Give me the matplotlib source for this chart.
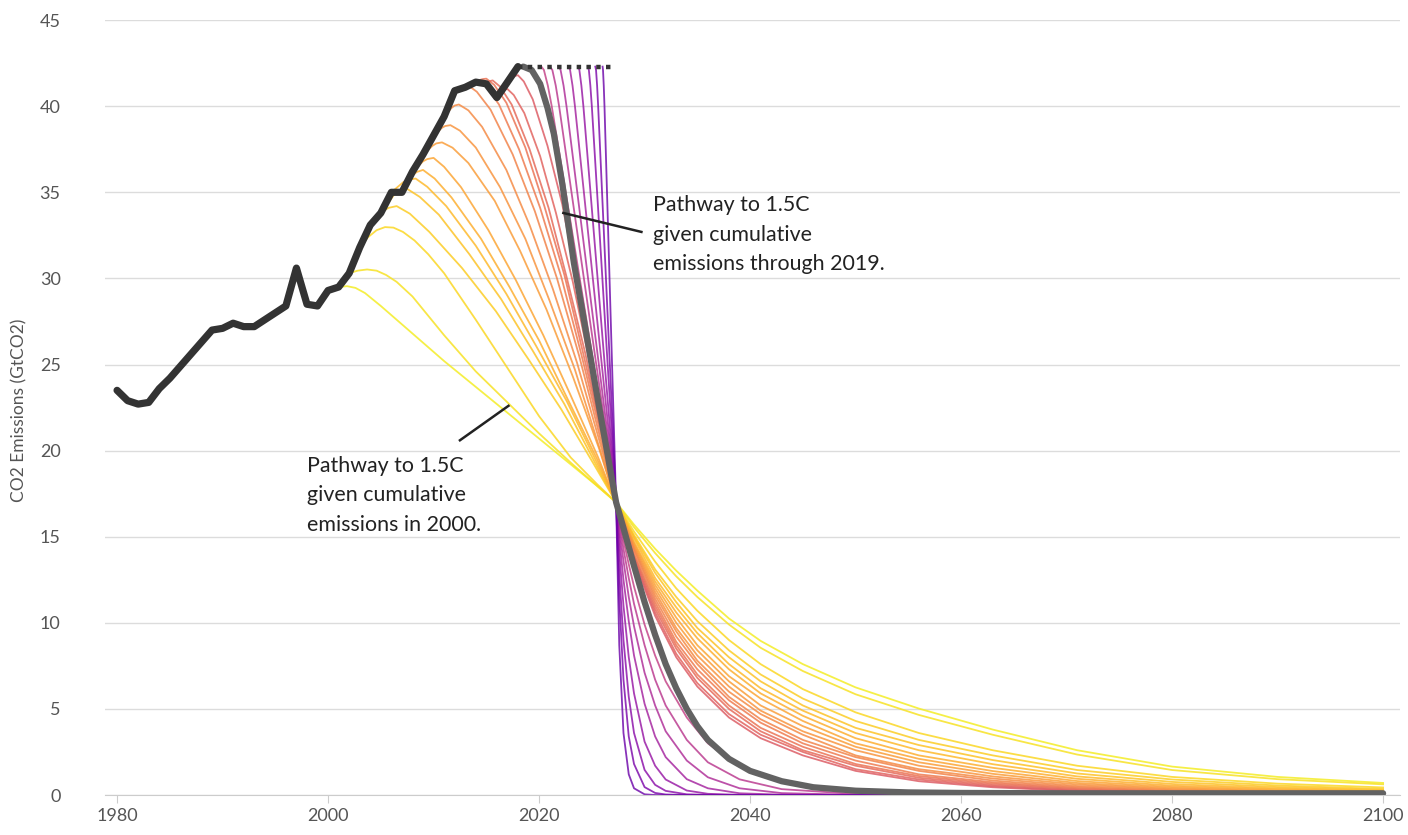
import numpy as np
import matplotlib.pyplot as plt

plt.rcParams['font.family'] = ['Lato', 'DejaVu Sans']

# historical emissions (GtCO2)
HIST_YEARS = list(range(1980, 2019))
HIST_CO2 = [23.5, 22.9, 22.7, 22.8, 23.6, 24.2, 24.9, 25.6, 26.3, 27.0,
            27.1, 27.4, 27.2, 27.2, 27.6, 28.0, 28.4, 30.6, 28.5, 28.4,
            29.3, 29.5, 30.3, 31.8, 33.1, 33.8, 35.0, 35.0, 36.2, 37.2,
            38.3, 39.4, 40.9, 41.1, 41.4, 41.3, 40.5, 41.4, 42.3]

# constant emissions after 2018 (dotted)
PLATEAU_YEARS = [2018, 2027]
PLATEAU_CO2 = [42.3, 42.3]

# pathways starting 2001..2017, part before the common crossing point
EARLY_YEARS = [
    [2001, 2001.8, 2002.6, 2003.5, 2005, 2008, 2011, 2014, 2017, 2020, 2023, 2025.5, 2027.3],
    [2002, 2002.8, 2003.7, 2004.6, 2005.5, 2006.5, 2008, 2011, 2014, 2017, 2020, 2023, 2025.5, 2027.3],
    [2003, 2003.8, 2004.6, 2005.4, 2006.2, 2007.1, 2008.2, 2009.5, 2011, 2014, 2017, 2020, 2023, 2025.5, 2027.3],
    [2004, 2005.25, 2005.75, 2006.5, 2007.75, 2009.6, 2012.7, 2015.9, 2019.0, 2022.1, 2025.2, 2027.3],
    [2005, 2006.25, 2006.75, 2007.5, 2008.7, 2010.5, 2013.4, 2016.4, 2019.4, 2022.4, 2025.3, 2027.3],
    [2006, 2007.15, 2007.6, 2008.3, 2009.4, 2011.2, 2014.0, 2016.9, 2019.7, 2022.6, 2025.4, 2027.3],
    [2007, 2008.0, 2008.4, 2009.0, 2010.1, 2011.7, 2014.5, 2017.2, 2020.0, 2022.7, 2025.5, 2027.3],
    [2008, 2009.0, 2009.4, 2010.0, 2011.0, 2012.6, 2015.2, 2017.8, 2020.4, 2023.0, 2025.6, 2027.3],
    [2009, 2009.9, 2010.25, 2010.8, 2011.8, 2013.3, 2015.8, 2018.2, 2020.7, 2023.2, 2025.7, 2027.3],
    [2010, 2010.8, 2011.1, 2011.6, 2012.5, 2014.0, 2016.3, 2018.7, 2021.0, 2023.4, 2025.7, 2027.3],
    [2011, 2011.7, 2012.0, 2012.4, 2013.3, 2014.6, 2016.9, 2019.1, 2021.3, 2023.6, 2025.8, 2027.3],
    [2012, 2012.65, 2012.9, 2013.3, 2014.1, 2015.4, 2017.5, 2019.6, 2021.7, 2023.8, 2025.9, 2027.3],
    [2013, 2013.6, 2013.85, 2014.2, 2015.0, 2016.2, 2018.1, 2020.1, 2022.1, 2024.0, 2026.0, 2027.3],
    [2014, 2014.5, 2014.7, 2015.0, 2015.75, 2016.9, 2018.7, 2020.5, 2022.4, 2024.2, 2026.1, 2027.3],
    [2015, 2015.6, 2016.3, 2017.4, 2019.1, 2020.9, 2022.6, 2024.4, 2026.1, 2027.3],
    [2016, 2016.5, 2016.7, 2017.0, 2017.6, 2018.6, 2020.1, 2021.6, 2023.2, 2024.7, 2026.3, 2027.3],
    [2017, 2017.5, 2017.7, 2018.0, 2018.55, 2019.4, 2020.8, 2022.2, 2023.6, 2025.0, 2026.4, 2027.3],
]
EARLY_CO2 = [
    [29.5, 29.55, 29.45, 29.15, 28.4, 26.8, 25.2, 23.7, 22.2, 20.7, 19.2, 17.95, 17.0],
    [30.3, 30.45, 30.52, 30.45, 30.2, 29.8, 28.95, 26.7, 24.6, 22.8, 21.0, 19.3, 17.95, 17.0],
    [31.8, 32.4, 32.8, 32.98, 32.95, 32.7, 32.2, 31.4, 30.3, 27.6, 24.8, 22.0, 19.6, 18.05, 17.0],
    [33.1, 33.93, 34.1, 34.2, 33.76, 32.7, 30.6, 28.1, 25.3, 22.4, 19.2, 17.0],
    [33.8, 34.85, 35.07, 35.2, 34.73, 33.7, 31.4, 28.8, 25.8, 22.7, 19.3, 17.0],
    [35.0, 35.6, 35.73, 35.8, 35.32, 34.2, 31.9, 29.1, 26.1, 22.9, 19.4, 17.0],
    [35.0, 35.98, 36.18, 36.3, 35.8, 34.7, 32.3, 29.5, 26.4, 23.0, 19.5, 17.0],
    [36.2, 36.8, 36.93, 37.0, 36.48, 35.3, 32.8, 29.9, 26.7, 23.2, 19.6, 17.0],
    [37.2, 37.7, 37.84, 37.9, 37.59, 36.7, 34.5, 31.6, 28.2, 24.3, 20.1, 17.0],
    [38.3, 38.75, 38.85, 38.9, 38.58, 37.6, 35.3, 32.3, 28.7, 24.7, 20.2, 17.0],
    [39.4, 39.9, 40.04, 40.1, 39.76, 38.8, 36.3, 33.1, 29.4, 25.1, 20.4, 17.0],
    [40.9, 41.1, 41.17, 41.2, 40.84, 39.8, 37.2, 33.9, 30.0, 25.5, 20.5, 17.0],
    [41.1, 41.4, 41.46, 41.5, 41.14, 40.1, 37.5, 34.1, 30.1, 25.6, 20.6, 17.0],
    [41.4, 41.55, 41.58, 41.6, 41.24, 40.2, 37.6, 34.2, 30.2, 25.6, 20.6, 17.0],
    [41.4, 41.5, 41.14, 40.1, 37.5, 34.1, 30.1, 25.6, 20.6, 17.0],
    [40.5, 40.88, 40.96, 41.0, 40.65, 39.6, 37.1, 33.8, 29.8, 25.4, 20.5, 17.0],
    [41.3, 41.68, 41.76, 41.8, 41.44, 40.4, 37.7, 34.3, 29.8, 25.2, 20.3, 17.0],
]

# decline after the crossing point, same years for every early pathway
TAIL_YEARS = [2027.3, 2029, 2031, 2033, 2035, 2038, 2041, 2045, 2050, 2056,
              2063, 2071, 2080, 2090, 2100]
EARLY_TAIL = [
    [17, 15.7, 14.3, 13.03, 11.87, 10.25, 8.95, 7.6, 6.25, 5.02, 3.8, 2.6, 1.65, 1.05, 0.7],
    [17, 15.55, 14.05, 12.7, 11.5, 9.9, 8.55, 7.2, 5.85, 4.65, 3.5, 2.35, 1.45, 0.92, 0.62],
    [17, 15.3, 13.55, 12.0, 10.7, 9.0, 7.6, 6.15, 4.8, 3.6, 2.6, 1.7, 1.05, 0.66, 0.44],
    [17, 15.1, 13.1, 11.5, 10.1, 8.4, 7.0, 5.6, 4.3, 3.2, 2.3, 1.45, 0.9, 0.55, 0.35],
    [17, 15.0, 12.9, 11.2, 9.7, 8.0, 6.6, 5.2, 3.9, 2.9, 2.03, 1.25, 0.76, 0.46, 0.29],
    [17, 14.9, 12.6, 10.9, 9.4, 7.6, 6.2, 4.9, 3.6, 2.6, 1.79, 1.08, 0.64, 0.38, 0.24],
    [17, 14.7, 12.4, 10.6, 9.1, 7.3, 5.9, 4.6, 3.3, 2.3, 1.58, 0.94, 0.54, 0.32, 0.20],
    [17, 14.6, 12.2, 10.3, 8.7, 6.9, 5.6, 4.3, 3.0, 2.1, 1.39, 0.81, 0.46, 0.26, 0.16],
    [17, 14.5, 12.0, 10.0, 8.4, 6.6, 5.2, 4.0, 2.8, 1.9, 1.23, 0.70, 0.39, 0.22, 0.14],
    [17, 14.4, 11.8, 9.7, 8.1, 6.3, 4.9, 3.7, 2.6, 1.7, 1.08, 0.61, 0.33, 0.18, 0.11],
    [17, 14.3, 11.6, 9.5, 7.8, 6.0, 4.7, 3.5, 2.3, 1.5, 0.96, 0.52, 0.28, 0.15, 0.09],
    [17, 14.2, 11.4, 9.2, 7.6, 5.7, 4.4, 3.2, 2.2, 1.4, 0.84, 0.45, 0.23, 0.13, 0.08],
    [17, 14.0, 11.2, 8.9, 7.3, 5.5, 4.2, 3.0, 2.0, 1.2, 0.74, 0.39, 0.20, 0.11, 0.06],
    [17, 13.9, 11.0, 8.7, 7.0, 5.2, 3.9, 2.8, 1.8, 1.1, 0.66, 0.34, 0.17, 0.09, 0.05],
    [17, 13.8, 10.8, 8.5, 6.8, 5.0, 3.7, 2.6, 1.7, 1.0, 0.58, 0.29, 0.14, 0.07, 0.04],
    [17, 13.7, 10.6, 8.2, 6.5, 4.7, 3.5, 2.5, 1.5, 0.9, 0.51, 0.25, 0.12, 0.06, 0.04],
    [17, 13.6, 10.4, 8.0, 6.3, 4.5, 3.3, 2.3, 1.4, 0.8, 0.45, 0.22, 0.10, 0.05, 0.03],
]

# delayed pathways (emissions held at 2018 level, then cut)
LATE_YEARS = [
    [2020.22, 2020.46, 2020.83, 2021.2, 2024.25, 2027.3],
    [2021.04, 2021.26, 2021.58, 2021.9, 2024.6, 2027.3],
    [2021.85, 2022.04, 2022.32, 2022.6, 2024.95, 2027.3],
    [2022.78, 2022.94, 2023.17, 2023.4, 2025.35, 2027.3],
    [2023.7, 2023.82, 2024.01, 2024.2, 2025.75, 2027.3],
    [2024.63, 2024.72, 2024.86, 2025.0, 2026.15, 2027.3],
    [2025.33, 2025.4, 2025.5, 2025.6, 2026.45, 2027.3],
    [2026.02, 2026.06, 2026.13, 2026.2, 2026.75, 2027.3],
]
LATE_CO2 = [42.3, 42.1, 41.2, 40.0, 28.5, 17.0]
LATE_TAIL_YEARS = [2027.3, 2027.6, 2028, 2028.5, 2029, 2030, 2031, 2032, 2034,
                   2036, 2039, 2043, 2050, 2060, 2100]
LATE_TAIL = [
    [17, 16.0, 14.8, 13.4, 12.1, 9.9, 8.1, 6.6, 4.5, 3.0, 1.64, 0.73, 0.18, 0.02, 0],
    [17, 15.8, 14.3, 12.6, 11.1, 8.7, 6.7, 5.2, 3.2, 1.9, 0.91, 0.34, 0.06, 0.01, 0],
    [17, 15.4, 13.6, 11.5, 9.8, 7.1, 5.2, 3.7, 2.0, 1.03, 0.39, 0.11, 0.01, 0, 0],
    [17, 14.9, 12.5, 10.1, 8.1, 5.3, 3.4, 2.2, 0.92, 0.39, 0.1, 0.02, 0, 0, 0],
    [17, 14.1, 11.0, 8.0, 5.9, 3.1, 1.7, 0.9, 0.26, 0.07, 0.01, 0, 0, 0, 0],
    [17, 12.9, 9.0, 5.7, 3.6, 1.46, 0.59, 0.24, 0.04, 0.01, 0, 0, 0, 0, 0],
    [17, 11.4, 6.7, 3.4, 1.8, 0.46, 0.12, 0.03, 0, 0, 0, 0, 0, 0, 0],
    [17, 8.7, 3.6, 1.2, 0.39, 0.04, 0, 0, 0, 0, 0, 0, 0, 0, 0],
]

# pathway given emissions through 2019 (thick grey)
PATH2019_YEARS = [2018.5, 2019.3, 2020.1, 2020.8, 2021.4, 2022.2, 2023.3, 2024.5,
                  2025.7, 2027.3, 2028, 2029, 2030, 2031, 2032, 2033, 2034, 2035,
                  2036, 2038, 2040, 2043, 2046, 2050, 2055, 2060, 2070, 2080, 2100]
PATH2019_CO2 = [42.3, 42.1, 41.3, 39.9, 38.4, 35.5, 30.9, 26.7, 22.5, 17.0,
                15.5, 13.3, 11.2, 9.3, 7.6, 6.2, 5.0, 4.0, 3.2, 2.1, 1.4, 0.8,
                0.45, 0.25, 0.15, 0.12, 0.1, 0.1, 0.1]

fig = plt.figure(figsize=(14.08, 8.35), dpi=100)
ax = fig.add_axes([0.0746, 0.0479, 0.9197, 0.928])

cmap = plt.get_cmap('plasma')
early_cols = cmap(np.linspace(0.97, 0.58, len(EARLY_YEARS)))
late_cols = cmap(np.linspace(0.46, 0.2, len(LATE_YEARS)))

for k in range(len(EARLY_YEARS)):
    xs = EARLY_YEARS[k] + TAIL_YEARS[1:]
    ys = EARLY_CO2[k] + EARLY_TAIL[k][1:]
    ax.plot(xs, ys, color=early_cols[k], lw=1.3, alpha=0.85, zorder=2)

for k in range(len(LATE_YEARS)):
    xs = LATE_YEARS[k] + LATE_TAIL_YEARS[1:]
    ys = LATE_CO2 + LATE_TAIL[k][1:]
    ax.plot(xs, ys, color=late_cols[k], lw=1.3, alpha=0.8, zorder=2)

ax.plot(PATH2019_YEARS, PATH2019_CO2, color='#626262', lw=4.5,
        solid_capstyle='round', solid_joinstyle='round', zorder=3)
ax.plot(HIST_YEARS, HIST_CO2, color='#333333', lw=5.2,
        solid_capstyle='round', solid_joinstyle='round', zorder=4)
ax.plot(PLATEAU_YEARS, PLATEAU_CO2, color='#333333', lw=3.2,
        linestyle=(0, (1, 1.2)), zorder=5)

ax.set_xlim(1978.86, 2101.6)
ax.set_ylim(0, 45)
ax.set_xticks(range(1980, 2101, 20))
ax.set_yticks(range(0, 46, 5))
ax.grid(axis='y', color='#dcdcdc', lw=1)
ax.set_axisbelow(True)
for s in ['top', 'right', 'left']:
    ax.spines[s].set_visible(False)
ax.spines['bottom'].set_color('#cccccc')
ax.tick_params(axis='y', length=0, pad=32, labelsize=13, labelcolor='#555555')
ax.tick_params(axis='x', length=6, color='#cccccc', pad=3, labelsize=13,
               labelcolor='#555555')

ax.set_ylabel('CO2 Emissions (GtCO2)', fontsize=12.5, color='#555555')
ax.yaxis.set_label_coords(-0.060, 0.497)

# annotations
ax.plot([2022.3, 2029.7], [33.8, 32.7], color='#222222', lw=1.8, zorder=6)
ax.text(2030.8, 34.85, 'Pathway to 1.5C\ngiven cumulative\nemissions through 2019.',
        fontsize=15.4, color='#222222', va='top', ha='left', linespacing=1.6)
ax.plot([2017.1, 2012.5], [22.6, 20.6], color='#222222', lw=1.8, zorder=6)
ax.text(1998.0, 19.7, 'Pathway to 1.5C\ngiven cumulative\nemissions in 2000.',
        fontsize=15.4, color='#222222', va='top', ha='left', linespacing=1.6)

fig.savefig('out.png', dpi=100)
